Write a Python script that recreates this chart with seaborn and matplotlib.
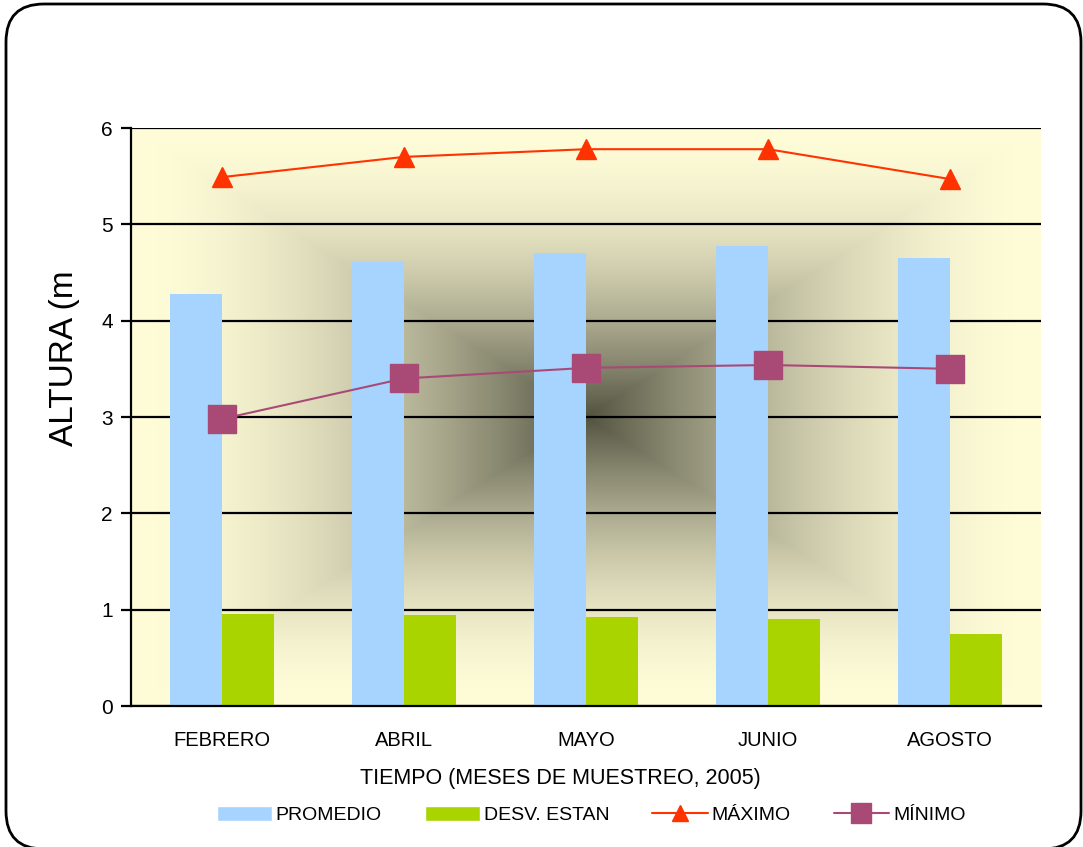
import numpy as np
import pandas as pd
import matplotlib
matplotlib.use("Agg")
import matplotlib.pyplot as plt
from matplotlib.patches import FancyBboxPatch
from matplotlib.lines import Line2D
from matplotlib.patches import Patch
import seaborn as sns

months = ["FEBRERO", "ABRIL", "MAYO", "JUNIO", "AGOSTO"]
promedio = [4.28, 4.61, 4.70, 4.77, 4.65]
desv = [0.96, 0.94, 0.92, 0.90, 0.75]
maximo = [5.49, 5.70, 5.78, 5.78, 5.47]
minimo = [2.98, 3.40, 3.51, 3.54, 3.50]
yticks = [0, 1, 2, 3, 4, 5, 6]

sns.set_theme(style="white")
plt.rcParams["font.family"] = ["Liberation Sans", "DejaVu Sans"]
plt.rcParams["text.color"] = "black"
plt.rcParams["axes.labelcolor"] = "black"
plt.rcParams["xtick.color"] = "black"
plt.rcParams["ytick.color"] = "black"

c_prom = "#A6D4FF"
c_desv = "#AAD400"
c_max = "#FF3300"
c_min = "#A94A76"

fig = plt.figure(figsize=(10.83, 8.47), dpi=100)
ax = fig.add_axes([131/1083, 1-706/847, 910/1083, 578/847])

# background rectangular gradient
n = 400
u = np.linspace(-1, 1, n)
U, V = np.meshgrid(u, u)
d = np.maximum(np.abs(U), np.abs(V))
t = (1 - d) ** 1.8
edge = np.array([255, 252, 216]) / 255
center = np.array([82, 82, 64]) / 255
img = edge[None, None, :] + (center - edge)[None, None, :] * t[..., None]
ax.imshow(img, extent=(-0.5, 4.5, 0, 6), aspect="auto", zorder=0, origin="lower")

df = pd.DataFrame({
    "mes": months * 2,
    "valor": promedio + desv,
    "serie": ["PROMEDIO"] * 5 + ["DESV. ESTAN"] * 5,
})
sns.barplot(data=df, x="mes", y="valor", hue="serie", order=months,
            hue_order=["PROMEDIO", "DESV. ESTAN"],
            palette=[c_prom, c_desv], width=0.57, gap=0, saturation=1,
            errorbar=None, ax=ax, zorder=3, legend=False, linewidth=0)

x = np.arange(len(months))
ax.plot(x, maximo, color=c_max, lw=1.5, marker="^", markersize=15, zorder=5)
ax.plot(x, minimo, color=c_min, lw=1.5, marker="s", markersize=20, zorder=5)

ax.set_xlim(-0.5, 4.5)
ax.set_ylim(0, 6)
ax.set_yticks(yticks)
ax.yaxis.grid(True, color="black", lw=1.6, zorder=1)
ax.set_axisbelow(False)
for gl in ax.get_ygridlines():
    gl.set_zorder(1)
ax.xaxis.grid(False)
for s in ["top", "right"]:
    ax.spines[s].set_visible(False)
for s in ["left", "bottom"]:
    ax.spines[s].set_color("black")
    ax.spines[s].set_linewidth(1.6)
    ax.spines[s].set_zorder(6)

ax.set_xticks(x)
ax.set_xticklabels(months)
ax.set_xticks(np.arange(-0.5, 5, 1), minor=True)
ax.tick_params(axis="x", which="major", length=0, pad=18, labelsize=14.5)
ax.tick_params(axis="x", which="minor", length=7, width=1.6, color="black", direction="out")
ax.tick_params(axis="y", which="major", length=7, width=1.6, color="black",
               direction="out", labelsize=15, pad=6, left=True)

ax.set_xlabel("TIEMPO (MESES DE MUESTREO, 2005)", fontsize=15.5)
ax.xaxis.set_label_coords((560 - 131) / 910, -(778 - 706) / 578)
ax.xaxis.label.set_va("center")
ax.set_ylabel("ALTURA (m", fontsize=24)
ax.yaxis.set_label_coords(-(131 - 65) / 910, (706 - 358) / 578)
ax.yaxis.label.set_va("center")

handles = [
    Patch(facecolor=c_prom, label="PROMEDIO"),
    Patch(facecolor=c_desv, label="DESV. ESTAN"),
    Line2D([], [], color=c_max, lw=1.5, marker="^", markersize=12, label="MÁXIMO"),
    Line2D([], [], color=c_min, lw=1.5, marker="s", markersize=14, label="MÍNIMO"),
]
fig.legend(handles=handles, loc="center", bbox_to_anchor=(591/1083, 1-815/847),
           ncol=4, frameon=False, fontsize=14, handlelength=2.85, handleheight=0.85,
           columnspacing=2.2, handletextpad=0.2, borderpad=0, borderaxespad=0)

border = FancyBboxPatch((6/1083, 1-849/847), 1075/1083, 845/847,
                        boxstyle="round,pad=0,rounding_size=0.035",
                        transform=fig.transFigure, fill=False, ec="black", lw=2,
                        mutation_aspect=1083/847)
fig.patches.append(border)

fig.savefig("out.png", dpi=100)
